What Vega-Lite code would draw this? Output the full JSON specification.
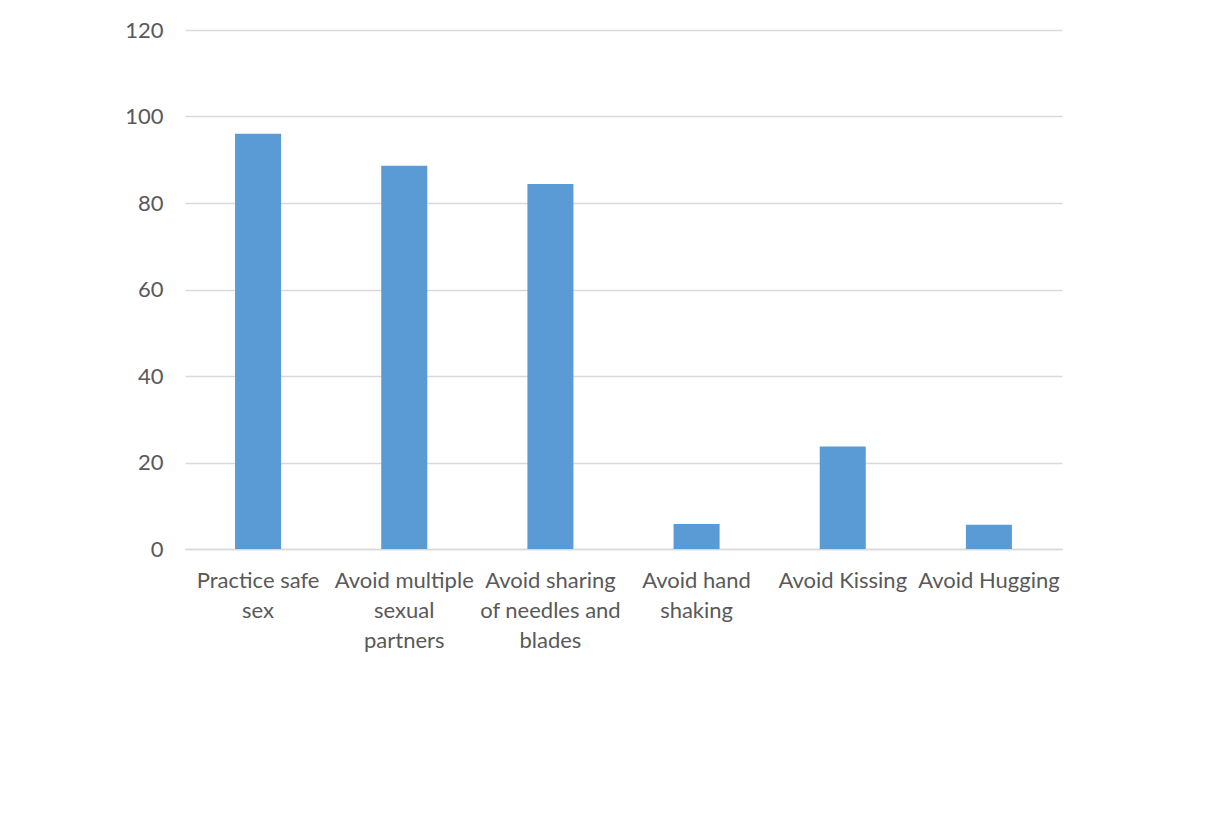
{
  "$schema": "https://vega.github.io/schema/vega-lite/v6.json",
  "autosize": {"type": "none"},
  "width": 877,
  "height": 519,
  "padding": {"left": 185, "top": 30, "right": 147, "bottom": 276},
  "background": "white",
  "data": {
    "values": [
      {"measure": "Practice safe sex", "percent": 96},
      {"measure": "Avoid multiple sexual partners", "percent": 88.6},
      {"measure": "Avoid sharing of needles and blades", "percent": 84.4},
      {"measure": "Avoid hand shaking", "percent": 5.8},
      {"measure": "Avoid Kissing", "percent": 23.7},
      {"measure": "Avoid Hugging", "percent": 5.6}
    ]
  },
  "mark": {"type": "bar", "color": "#5b9bd5"},
  "encoding": {
    "x": {
      "field": "measure",
      "type": "nominal",
      "sort": null,
      "scale": {"paddingInner": 0.685, "paddingOuter": 0.3425},
      "axis": {
        "title": null,
        "labelAngle": 0,
        "labelAlign": "center",
        "labelBaseline": "top",
        "labelPadding": 21,
        "labelLineHeight": 30,
        "labelExpr": "datum.label == 'Practice safe sex' ? ['Practice safe', 'sex'] : datum.label == 'Avoid multiple sexual partners' ? ['Avoid multiple', 'sexual', 'partners'] : datum.label == 'Avoid sharing of needles and blades' ? ['Avoid sharing', 'of needles and', 'blades'] : datum.label == 'Avoid hand shaking' ? ['Avoid hand', 'shaking'] : datum.label",
        "ticks": false,
        "domainColor": "#d9d9d9",
        "domainWidth": 1.5,
        "labelLimit": 0
      }
    },
    "y": {
      "field": "percent",
      "type": "quantitative",
      "scale": {"domain": [0, 120]},
      "axis": {
        "title": null,
        "values": [0, 20, 40, 60, 80, 100, 120],
        "ticks": false,
        "domain": false,
        "labelPadding": 22,
        "gridColor": "#d9d9d9",
        "gridWidth": 1.5
      }
    }
  },
  "config": {
    "view": {"stroke": null},
    "axis": {
      "labelFont": "Lato",
      "labelFontSize": 22,
      "labelColor": "#595959"
    }
  }
}
